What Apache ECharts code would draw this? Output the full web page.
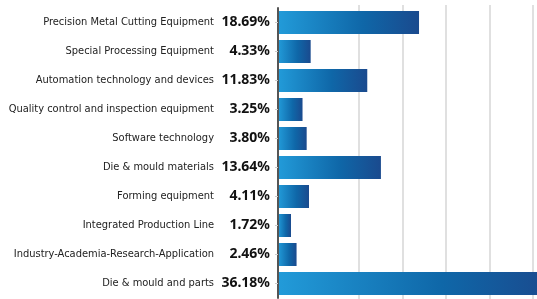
<!DOCTYPE html>
<html lang="en">
<head>
    <meta charset="UTF-8">
    <title>Share by segment</title>
    <script src="https://cdn.jsdelivr.net/npm/echarts@6/dist/echarts.min.js"></script>
    <style>
        html, body { margin: 0; padding: 0; background: #fff; }
        #main { width: 537px; height: 299px; }
    </style>
</head>
<body>
<div id="main"></div>
<script>
    // categories top -> bottom
    var categories = [
        'Precision Metal Cutting Equipment',
        'Special Processing Equipment',
        'Automation technology and devices',
        'Quality control and inspection equipment',
        'Software technology',
        'Die & mould materials',
        'Forming equipment',
        'Integrated Production Line',
        'Industry-Academia-Research-Application',
        'Die & mould and parts'
    ];
    var shares = [18.69, 4.33, 11.83, 3.25, 3.80, 13.64, 4.11, 1.72, 2.46, 36.18];

    var chart = echarts.init(document.getElementById('main'));
    var option = {
        animation: false,
        grid: [
            // main plot, right edge runs past the canvas like the picture
            { left: 278, right: -14, top: 8, bottom: 1, outerBoundsMode: 'none', containLabel: false },
            // only carries the light vertical guide lines
            { left: 358.7, right: 4, top: 5, bottom: 0, outerBoundsMode: 'none', containLabel: false }
        ],
        xAxis: [{
            type: 'value',
            gridIndex: 0,
            min: 0,
            max: 36.18,
            axisLine: { show: false },
            axisTick: { show: false },
            axisLabel: { show: false },
            splitLine: { show: false }
        }, {
            type: 'value',
            gridIndex: 1,
            min: 0,
            max: 4,
            interval: 1,
            axisLine: { show: false },
            axisTick: { show: false },
            axisLabel: { show: false },
            splitLine: { show: true, lineStyle: { color: '#e0e0e0', width: 2 } }
        }],
        yAxis: [{
            type: 'category',
            gridIndex: 0,
            inverse: true,
            data: categories,
            z: 3,
            axisLine: { show: true, lineStyle: { color: '#555', width: 2 } },
            axisTick: { show: true, alignWithLabel: true, length: 3, lineStyle: { color: '#ccc' } },
            axisLabel: {
                margin: 8,
                formatter: function (name, i) {
                    return '{n|' + name + '}{v|' + shares[i].toFixed(2) + '%}';
                },
                rich: {
                    n: { fontFamily: 'DejaVu Sans Condensed, Roboto', fontSize: 11, color: '#222' },
                    v: { fontFamily: 'Noto Sans', fontSize: 14, fontWeight: 'bold', color: '#111', width: 56, align: 'right' }
                }
            }
        }, {
            type: 'category',
            gridIndex: 1,
            data: categories,
            show: false
        }],
        series: [{
            type: 'bar',
            xAxisIndex: 0,
            yAxisIndex: 0,
            data: shares,
            barWidth: 23,
            itemStyle: {
                color: new echarts.graphic.LinearGradient(0, 0, 1, 0, [
                    { offset: 0, color: '#229bd9' },
                    { offset: 0.6, color: '#0f67a8' },
                    { offset: 1, color: '#1a4a8e' }
                ])
            }
        }]
    };
    chart.setOption(option);
</script>
</body>
</html>
